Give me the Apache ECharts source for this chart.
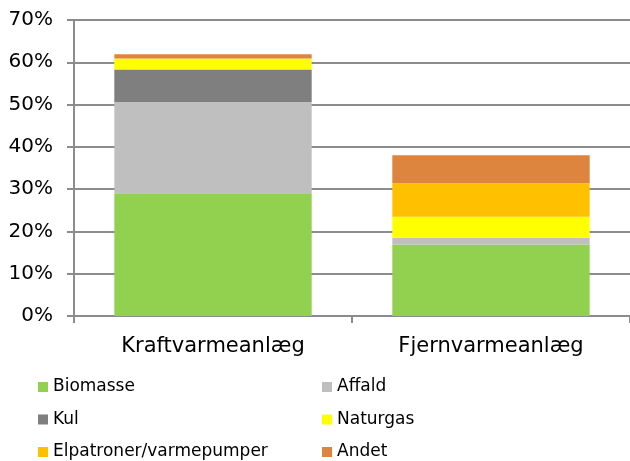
<!DOCTYPE html>
<html>
<head>
<meta charset="utf-8">
<script src="https://cdn.jsdelivr.net/npm/echarts@6/dist/echarts.min.js"></script>
<style>html,body{margin:0;padding:0;background:#fff;}#c{width:630px;height:461px;}</style>
</head>
<body>
<div id="c"></div>
<script>
const categories = ['Kraftvarmeanlæg', 'Fjernvarmeanlæg'];
const seriesNames = ['Biomasse', 'Affald', 'Kul', 'Naturgas', 'Elpatroner/varmepumper', 'Andet'];
const biomasse = [29.0, 16.9];
const affald = [21.6, 1.6];
const kul = [7.7, 0];
const naturgas = [2.6, 5.0];
const elpatroner = [0, 7.9];
const andet = [1.0, 6.6];
const yTicks = [0, 10, 20, 30, 40, 50, 60, 70];
const colors = ['#92D050', '#BFBFBF', '#7F7F7F', '#FFFF00', '#FFC000', '#DD843F'];
const values = [biomasse, affald, kul, naturgas, elpatroner, andet];

const font = "'DejaVu Sans', Verdana, sans-serif";
const axisGray = '#8C8C8C';
const legendBase = {
  orient: 'vertical', top: 377, height: 120, padding: 0,
  icon: 'rect', itemWidth: 10, itemHeight: 10, itemGap: 12.5,
  textStyle: {fontFamily: font, fontSize: 17, color: '#000', lineHeight: 20}
};
const chart = echarts.init(document.getElementById('c'), null, {renderer: 'canvas'});
chart.setOption({
  animation: false,
  color: colors,
  grid: {left: 74, top: 20, width: 560, height: 296, containLabel: false},
  legend: [
    Object.assign({}, legendBase, {left: 38, data: [seriesNames[0], seriesNames[2], seriesNames[4]]}),
    Object.assign({}, legendBase, {left: 322, data: [seriesNames[1], seriesNames[3], seriesNames[5]]})
  ],
  xAxis: {
    type: 'category', data: categories,
    axisLine: {lineStyle: {color: axisGray, width: 2}},
    axisTick: {show: true, length: 7, lineStyle: {color: axisGray, width: 2}},
    axisLabel: {fontFamily: font, fontSize: 21, color: '#000', margin: 20}
  },
  yAxis: {
    type: 'value', min: yTicks[0], max: yTicks[yTicks.length-1], interval: 10,
    axisLine: {show: true, lineStyle: {color: axisGray, width: 2}},
    axisTick: {show: true, length: 7, lineStyle: {color: axisGray, width: 2}},
    splitLine: {show: true, lineStyle: {color: axisGray, width: 2}},
    axisLabel: {fontFamily: font, fontSize: 20, color: '#000', margin: 21, formatter: '{value}%'}
  },
  series: seriesNames.map((n, i) => ({
    name: n, type: 'bar', stack: 'total', data: values[i],
    barCategoryGap: '29%', itemStyle: {color: colors[i]}
  }))
});
</script>
</body>
</html>
